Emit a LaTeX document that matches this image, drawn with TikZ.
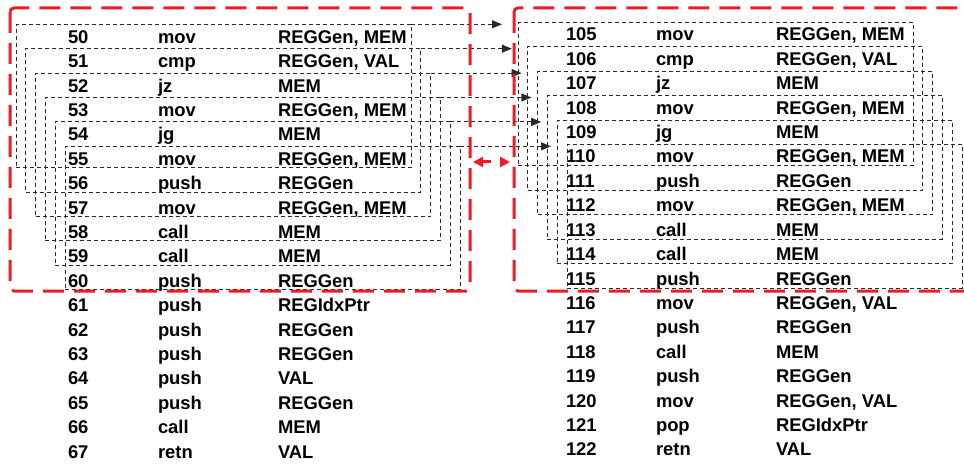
\documentclass[tikz,border=0pt]{standalone}
\usepackage{fontspec}
\setmainfont{Liberation Sans}
\usetikzlibrary{arrows.meta}
\definecolor{grpred}{RGB}{237,28,36}
\definecolor{winline}{RGB}{40,40,40}
\begin{document}
\begin{tikzpicture}[x=1pt,y=-1pt,
  txt/.style={anchor=base west, inner sep=0pt, outer sep=0pt,
    font=\fontsize{18.4}{20}\selectfont\bfseries},
  winbox/.style={draw=winline, line width=1pt, dash pattern=on 4pt off 3pt,
    anchor=north west, inner sep=0pt, outer sep=0pt,
    minimum width=395pt, minimum height=143.5pt},
  grp/.style={draw=grpred, line width=3pt, dash pattern=on 21pt off 10pt,
    rounded corners=4pt},
  link/.style={draw=winline, line width=1pt, dash pattern=on 4pt off 3pt,
    -{Triangle[length=10pt,width=8pt]}, shorten >=16pt},
  swaparrow/.style={draw=grpred, line width=3pt, dash pattern=on 9pt off 9pt,
    {Triangle[length=10pt,width=10pt]}-{Triangle[length=10pt,width=10pt]}}
]
\useasboundingbox (0,0) rectangle (964,465);

% left listing
\foreach \n/\m/\o [count=\i from 0] in {
  50/mov/{REGGen, MEM}, 51/cmp/{REGGen, VAL}, 52/jz/MEM,
  53/mov/{REGGen, MEM}, 54/jg/MEM, 55/mov/{REGGen, MEM},
  56/push/REGGen, 57/mov/{REGGen, MEM}, 58/call/MEM,
  59/call/MEM, 60/push/REGGen, 61/push/REGIdxPtr,
  62/push/REGGen, 63/push/REGGen, 64/push/VAL,
  65/push/REGGen, 66/call/MEM, 67/retn/VAL}{
  \pgfmathsetmacro\yb{43.3+24.4*\i}
  \node[txt] (L\n-num) at (68,\yb) {\n};
  \node[txt] (L\n-op)  at (158,\yb) {\m};
  \node[txt] (L\n-arg) at (278,\yb) {\o};
}

% right listing
\foreach \n/\m/\o [count=\i from 0] in {
  105/mov/{REGGen, MEM}, 106/cmp/{REGGen, VAL}, 107/jz/MEM,
  108/mov/{REGGen, MEM}, 109/jg/MEM, 110/mov/{REGGen, MEM},
  111/push/REGGen, 112/mov/{REGGen, MEM}, 113/call/MEM,
  114/call/MEM, 115/push/REGGen, 116/mov/{REGGen, VAL},
  117/push/REGGen, 118/call/MEM, 119/push/REGGen,
  120/mov/{REGGen, VAL}, 121/pop/REGIdxPtr, 122/retn/VAL}{
  \pgfmathsetmacro\yb{41+24.4*\i}
  \node[txt] (R\n-num) at (566,\yb) {\n};
  \node[txt] (R\n-op)  at (656,\yb) {\m};
  \node[txt] (R\n-arg) at (776,\yb) {\o};
}

% sliding windows of six instructions
\foreach \k in {0,...,5}{
  \node[winbox] (lw\k) at ({16+9.8*\k},{24.3+24.4*\k}) {};
  \node[winbox] (rw\k) at ({518+9.8*\k},{22.5+24.4*\k}) {};
}

% window-to-window links
\foreach \k in {0,...,5}{
  \draw[link] (lw\k.north east) -- (lw\k.north east -| rw\k.north west);
}

% group frames
\draw[grp] (10,8) rectangle (470,291);
\draw[grp] (514,8) rectangle (1000,291);

% exchange between the two groups
\coordinate (swapL) at (473,162);
\coordinate (swapR) at (510,162);
\draw[swaparrow] (swapL) -- (swapR);
\end{tikzpicture}
\end{document}
